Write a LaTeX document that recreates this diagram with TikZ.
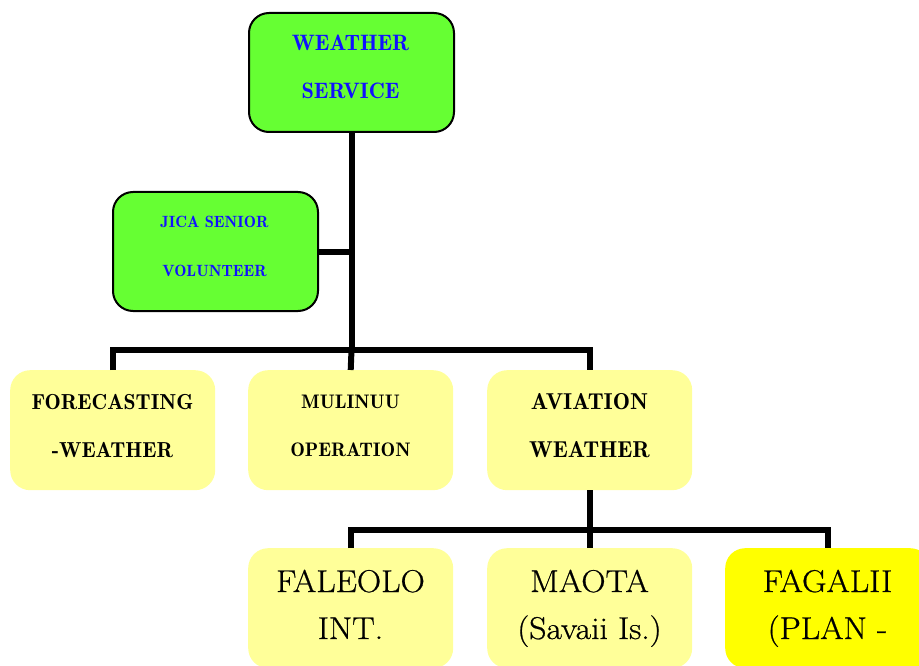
\documentclass[tikz,border=0pt]{standalone}
\usepackage{fontspec}
\newfontfamily\demi{lmromandemi10-regular.otf}
\newfontfamily\plain[FakeBold=0.7,FakeStretch=1.07]{Latin Modern Roman}
\definecolor{boxgreen}{HTML}{66FF33}
\definecolor{boxpale}{HTML}{FFFF99}
\definecolor{boxyellow}{HTML}{FFFF00}
\definecolor{textblue}{HTML}{1010FF}
\tikzset{
  unit/.style={rounded corners=20pt, minimum width=205pt, minimum height=120pt,
               inner sep=0pt, anchor=north west},
  greenunit/.style={unit, fill=boxgreen, draw=black, line width=2pt},
  paleunit/.style={unit, fill=boxpale},
  brightunit/.style={unit, fill=boxyellow},
  link/.style={line width=6pt, draw=black},
  lbl/.style={anchor=base, inner sep=0pt},
  toptext/.style={lbl, text=textblue, font=\demi\fontsize{22.3}{26}\selectfont},
  jicatext/.style={lbl, text=textblue, font=\demi\fontsize{16.3}{19}\selectfont},
  fctext/.style={lbl, font=\demi\fontsize{21.7}{26}\selectfont},
  avtext/.style={lbl, font=\demi\fontsize{23}{27}\selectfont},
  smalltext/.style={lbl, font=\demi\fontsize{19.6}{23}\selectfont},
  bigtext/.style={lbl, font=\plain\fontsize{31.5}{36}\selectfont},
}
\begin{document}
\begin{tikzpicture}[x=1pt,y=-1pt]
\useasboundingbox (0,0) rectangle (919,666);
\clip (0,0) rectangle (919,666);

% boxes
\node[greenunit, minimum height=119pt] (ws) at (248,12) {};
\node[greenunit, minimum height=119pt] (jica) at (112,191) {};
\node[paleunit] (fc) at (10,370) {};
\node[paleunit] (mul) at (248,370) {};
\node[paleunit] (av) at (487,370) {};
\node[paleunit] (fal) at (248,548) {};
\node[paleunit] (mao) at (487,548) {};
\node[brightunit] (fag) at (725,548) {};

% connectors
\coordinate (bar1) at (ws.south |- 0,350);
\coordinate (bar2) at (av.south |- 0,530);
\draw[link] (ws.south) -- (bar1);
\draw[link] (jica.east) -- (jica.east -| bar1);
\draw[link] (fc.north) |- (bar1) -| (av.north);
\draw[link] (bar1) -- (mul.north);
\draw[link] (av.south) -- (bar2);
\draw[link] (fal.north) |- (bar2) -| (fag.north);
\draw[link] (bar2) -- (mao.north);

% labels
\node[toptext] (ws1) at (350.5,51) {WEATHER};
\node[toptext] (ws2) at (350.5,99) {SERVICE};
\node[jicatext] (jc1) at (214.5,228) {JICA SENIOR};
\node[jicatext] (jc2) at (214.5,276) {VOLUNTEER};
\node[fctext] (fc1) at (112.5,409) {FORECASTING};
\node[fctext] (fc2) at (112.5,457) {-WEATHER};
\node[smalltext] (mu1) at (350.5,408) {MULINUU};
\node[smalltext] (mu2) at (350.5,456) {OPERATION};
\node[avtext] (av1) at (589.5,409) {AVIATION};
\node[avtext] (av2) at (589.5,457) {WEATHER};
\node[bigtext] (fa1) at (350.5,592) {FALEOLO};
\node[bigtext] (fa2) at (350.5,639) {INT.};
\node[bigtext] (ma1) at (589.5,592) {MAOTA};
\node[bigtext] (ma2) at (589.5,639) {(Savaii Is.)};
\node[bigtext] (fg1) at (827.5,592) {FAGALII};
\node[bigtext] (fg2) at (827.5,639) {(PLAN -};
\end{tikzpicture}
\end{document}
